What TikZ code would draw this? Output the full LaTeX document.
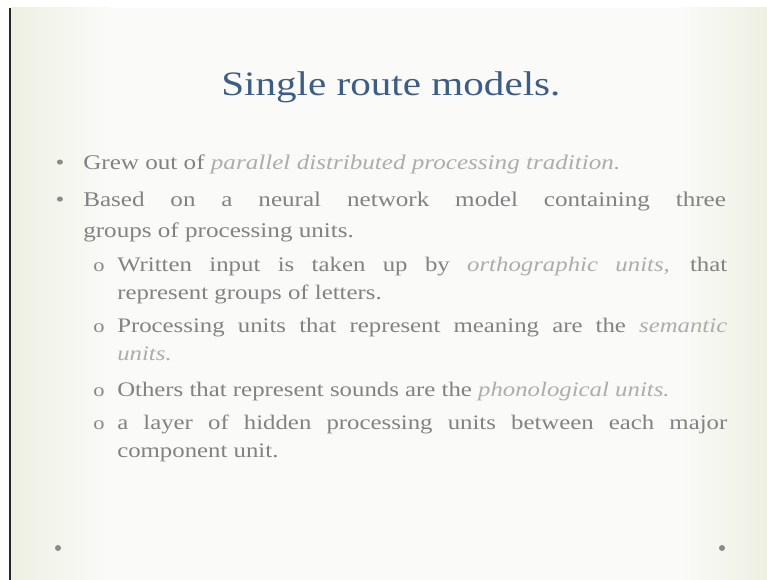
\documentclass[tikz,border=0pt]{standalone}
\usepackage{fontspec}
\setmainfont[FakeStretch=1.2]{Liberation Serif}
\usetikzlibrary{positioning}
\definecolor{slidebg}{HTML}{FAFAF8}
\definecolor{edgetint}{HTML}{EEF0E2}
\definecolor{titleblue}{HTML}{3D5C86}
\definecolor{bodygray}{HTML}{828282}
\definecolor{emgray}{HTML}{ADADAD}
\definecolor{dotgray}{HTML}{8A8A8A}
\newcommand{\hl}[1]{{\itshape\color{emgray}#1}}
\tikzset{
  slidetitle/.style = {font=\fontsize{25.7}{30}\selectfont, text=titleblue, inner sep=0pt, anchor=base west},
  body/.style       = {font=\fontsize{15.7}{23.25}\selectfont, text=bodygray, inner sep=0pt,
                       align=justify, text width=482pt, anchor=base west},
  subbody/.style    = {font=\fontsize{15.5}{20.5}\selectfont, text=bodygray, inner sep=0pt,
                       align=justify, text width=457.5pt, anchor=base west},
  bulletdot/.style  = {font=\fontsize{15.7}{20}\selectfont, text=dotgray, inner sep=0pt, anchor=base},
  subdot/.style     = {font=\fontsize{14}{20}\selectfont, text=dotgray, inner sep=0pt, anchor=base},
  cornerdot/.style  = {circle, fill=dotgray, inner sep=0pt, minimum size=4.5pt},
}
\begin{document}
\begin{tikzpicture}[x=0.75pt,y=-0.75pt]
  \useasboundingbox (0,0) rectangle (767,580);
  % slide background
  \fill[white] (0,0) rectangle (767,580);
  \fill[slidebg] (11,8) rectangle (767,580);
  \shade[left color=edgetint, right color=slidebg] (11,8) rectangle (110,580);
  \shade[left color=slidebg, right color=edgetint] (680,8) rectangle (767,580);
  \draw[line width=1.5pt, black!85] (10,8) -- (10,580);
  % title
  \node[slidetitle] (title) at (221,96) {Single route models.};
  % first level
  \node[bulletdot] (b1) at (60,170) {\textbullet};
  \node[body] (t1) at (83,170) {Grew out of \hl{parallel distributed processing tradition.}};
  \node[bulletdot] (b2) at (60,207) {\textbullet};
  \node[body] (t2) at (83,207) {Based on a neural network model containing three\linebreak
    groups of processing units.};
  % second level
  \node[subdot] (s1) at (99,272) {o};
  \node[subbody] (u1) at (117,272) {Written input is taken up by \hl{orthographic units,} that\linebreak
    represent groups of letters.};
  \node[subdot] (s2) at (99,333) {o};
  \node[subbody] (u2) at (117,333) {Processing units that represent meaning are the \hl{semantic}\linebreak
    \hl{units.}};
  \node[subdot] (s3) at (99,397) {o};
  \node[subbody] (u3) at (117,397) {Others that represent sounds are the \hl{phonological units.}};
  \node[subdot] (s4) at (99,430) {o};
  \node[subbody] (u4) at (117,430) {a layer of hidden processing units between each major\linebreak
    component unit.};
  % footer dots
  \node[cornerdot] (fl) at (58,548) {};
  \node[cornerdot] (fr) at (722,548) {};
\end{tikzpicture}
\end{document}
